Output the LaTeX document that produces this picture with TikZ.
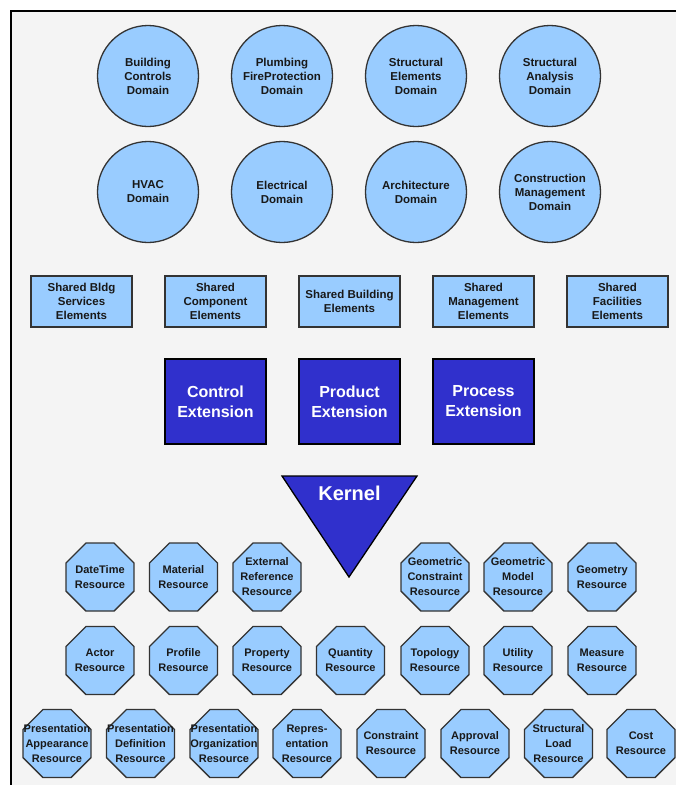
\documentclass[tikz,border=0pt]{standalone}
\usepackage{fontspec}
\setmainfont{Liberation Sans}
\usetikzlibrary{shapes.geometric}
\definecolor{lb}{HTML}{99CCFF}
\definecolor{db}{HTML}{3030CC}
\definecolor{bd}{HTML}{333333}
\definecolor{bg}{HTML}{F4F4F4}
\tikzset{
  dom/.style={circle,draw=bd,fill=lb,line width=1.3pt,minimum size=101pt,inner sep=0pt,align=center,text=black!90,font=\bfseries\fontsize{11.5}{14}\selectfont},
  shr/.style={rectangle,draw=bd,fill=lb,line width=1.3pt,minimum width=101pt,minimum height=51pt,inner sep=0pt,align=center,text=black!90,font=\bfseries\fontsize{11.5}{14}\selectfont},
  ext/.style={rectangle,draw=black,fill=db,line width=1.3pt,minimum width=101pt,minimum height=85pt,inner sep=0pt,align=center,text=white,font=\bfseries\fontsize{16}{20}\selectfont},
  octo/.style={regular polygon,regular polygon sides=8,draw=bd,fill=lb,line width=1.3pt,minimum size=73.6pt,inner sep=0pt},
  otext/.style={inner sep=0pt,align=center,text=black!90,font=\bfseries\fontsize{11}{15}\selectfont},
}
\begin{document}
\begin{tikzpicture}[x=1pt,y=-1pt]
\useasboundingbox (0,0) rectangle (676,785);
\fill[white] (0,0) rectangle (676,785);
\fill[bg] (11,11) rectangle (676,785);
\draw[line width=1.2pt] (676,11) -- (11,11) -- (11,785);
% domains
\node[dom] (d1) at (148,76) {Building\\Controls\\Domain};
\node[dom] (d2) at (282,76) {Plumbing\\FireProtection\\Domain};
\node[dom] (d3) at (416,76) {Structural\\Elements\\Domain};
\node[dom] (d4) at (550,76) {Structural\\Analysis\\Domain};
\node[dom] (d5) at (148,192) {HVAC\\Domain};
\node[dom] (d6) at (282,192) {Electrical\\Domain};
\node[dom] (d7) at (416,192) {Architecture\\Domain};
\node[dom] (d8) at (550,192) {Construction\\Management\\Domain};
% shared
\node[shr] (s1) at (81.5,301.5) {Shared Bldg\\Services\\Elements};
\node[shr] (s2) at (215.5,301.5) {Shared\\Component\\Elements};
\node[shr] (s3) at (349.5,301.5) {Shared Building\\Elements};
\node[shr] (s4) at (483.5,301.5) {Shared\\Management\\Elements};
\node[shr] (s5) at (617.5,301.5) {Shared\\Facilities\\Elements};
% extensions
\node[ext] (e1) at (215.5,401.5) {Control\\Extension};
\node[ext] (e2) at (349.5,401.5) {Product\\Extension};
\node[ext] (e3) at (483.5,401.5) {Process\\Extension};
% kernel
\draw[fill=db,draw=black,line width=1.3pt] (282,476) -- (417,476) -- (349,577) -- cycle;
\node[inner sep=0pt,text=white,font=\bfseries\fontsize{20}{22}\selectfont] (k) at (349.5,493) {Kernel};
% resources row 1
\node[octo] (r1) at (100,577) {};
\node[otext] (r1t) at (r1) {DateTime\\Resource};
\node[octo] (r2) at (183.5,577) {};
\node[otext] (r2t) at (r2) {Material\\Resource};
\node[octo] (r3) at (267,577) {};
\node[otext] (r3t) at (r3) {External\\Reference\\Resource};
\node[octo] (r4) at (435,577) {};
\node[otext] (r4t) at (r4) {Geometric\\Constraint\\Resource};
\node[octo] (r5) at (518,577) {};
\node[otext] (r5t) at (r5) {Geometric\\Model\\Resource};
\node[octo] (r6) at (602,577) {};
\node[otext] (r6t) at (r6) {Geometry\\Resource};
% row 2
\node[octo] (q1) at (100,660.5) {};
\node[otext] (q1t) at (q1) {Actor\\Resource};
\node[octo] (q2) at (183.5,660.5) {};
\node[otext] (q2t) at (q2) {Profile\\Resource};
\node[octo] (q3) at (267,660.5) {};
\node[otext] (q3t) at (q3) {Property\\Resource};
\node[octo] (q4) at (350.5,660.5) {};
\node[otext] (q4t) at (q4) {Quantity\\Resource};
\node[octo] (q5) at (435,660.5) {};
\node[otext] (q5t) at (q5) {Topology\\Resource};
\node[octo] (q6) at (518,660.5) {};
\node[otext] (q6t) at (q6) {Utility\\Resource};
\node[octo] (q7) at (602,660.5) {};
\node[otext] (q7t) at (q7) {Measure\\Resource};
% row 3
\node[octo] (p1) at (57,743.5) {};
\node[otext] (p1t) at (p1) {Presentation\\Appearance\\Resource};
\node[octo] (p2) at (140.5,743.5) {};
\node[otext] (p2t) at (p2) {Presentation\\Definition\\Resource};
\node[octo] (p3) at (224,743.5) {};
\node[otext] (p3t) at (p3) {Presentation\\Organization\\Resource};
\node[octo] (p4) at (307,743.5) {};
\node[otext] (p4t) at (p4) {Repres-\\entation\\Resource};
\node[octo] (p5) at (391,743.5) {};
\node[otext] (p5t) at (p5) {Constraint\\Resource};
\node[octo] (p6) at (475,743.5) {};
\node[otext] (p6t) at (p6) {Approval\\Resource};
\node[octo] (p7) at (558.5,743.5) {};
\node[otext] (p7t) at (p7) {Structural\\Load\\Resource};
\node[octo] (p8) at (641,743.5) {};
\node[otext] (p8t) at (p8) {Cost\\Resource};
\end{tikzpicture}
\end{document}
